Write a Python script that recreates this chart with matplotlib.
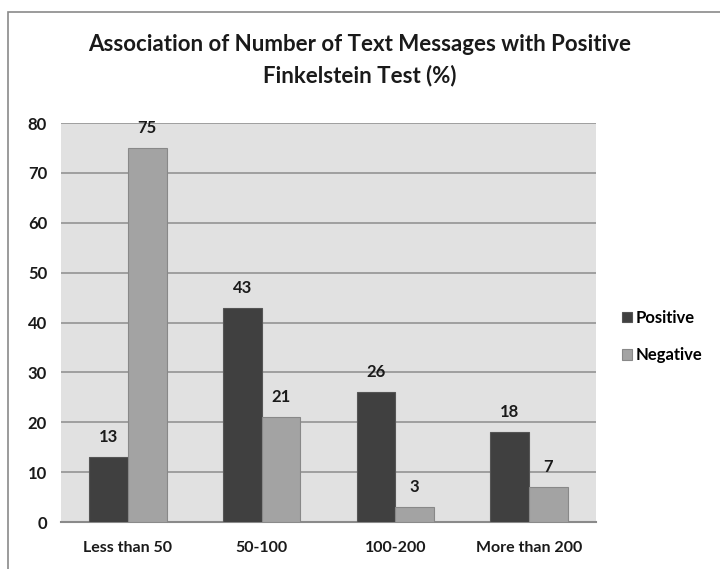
import matplotlib.pyplot as plt
from matplotlib.patches import Rectangle
import numpy as np

categories = ['Less than 50', '50-100', '100-200', 'More than 200']
positive = [13, 43, 26, 18]
negative = [75, 21, 3, 7]
y_ticks = [0, 10, 20, 30, 40, 50, 60, 70, 80]

c_pos = '#404040'
c_neg = '#a3a3a3'
c_bg = '#e1e1e1'
c_grid = '#9a9a9a'
c_txt = '#1a1a1a'

plt.rcParams.update({'font.family': ['Lato', 'DejaVu Sans'], 'font.weight': 'bold'})

fig = plt.figure(figsize=(7.2, 5.69), dpi=100)
ax = fig.add_axes([0.0847, 0.0826, 0.743, 0.7012])

# outer chart frame (top and left edges visible)
fig.patches.append(Rectangle((8 / 720, -0.05), 1.0, 1 - 12 / 569 + 0.05, transform=fig.transFigure,
                             fill=False, edgecolor='#8a8a8a', linewidth=1.2))

x = np.arange(len(categories))
w = 0.29
b1 = ax.bar(x - w / 2, positive, w, color=c_pos, edgecolor='#555555', linewidth=0.8, label='Positive', zorder=3)
b2 = ax.bar(x + w / 2, negative, w, color=c_neg, edgecolor='#888888', linewidth=0.8, label='Negative', zorder=3)

for bars, vals in [(b1, positive), (b2, negative)]:
    for r, v in zip(bars, vals):
        ax.text(r.get_x() + r.get_width() / 2, v + 4, str(v), ha='center', va='center',
                fontsize=12, fontweight='bold', color=c_txt)

ax.set_facecolor(c_bg)
ax.set_xlim(-0.5, len(categories) - 0.5)
ax.set_ylim(0, 80)
ax.set_yticks(y_ticks)
ax.yaxis.grid(True, color=c_grid, linewidth=1.3, zorder=0)
ax.set_axisbelow(True)
for s in ['top', 'right', 'left']:
    ax.spines[s].set_visible(False)
ax.spines['bottom'].set_color('#8a8a8a')
ax.spines['bottom'].set_linewidth(1.5)
ax.tick_params(length=0)
ax.set_xticks(x)
ax.set_xticklabels(categories, fontsize=11.5, fontweight='bold', color=c_txt)
ax.tick_params(axis='x', pad=14)
ax.tick_params(axis='y', pad=10, labelsize=12, labelcolor=c_txt)

fig.text(0.5, 0.8945, 'Association of Number of Text Messages with Positive\nFinkelstein Test (%)',
         ha='center', va='center', fontsize=16, fontweight='bold', color=c_txt, linespacing=1.55)

fig.legend(handles=[b1, b2], loc='center left', bbox_to_anchor=(0.853, 0.4085), frameon=False,
           fontsize=12, handlelength=0.55, handleheight=0.55, handletextpad=0.25, labelspacing=1.3,
           borderpad=0.0)

fig.savefig('out.png', dpi=100)
